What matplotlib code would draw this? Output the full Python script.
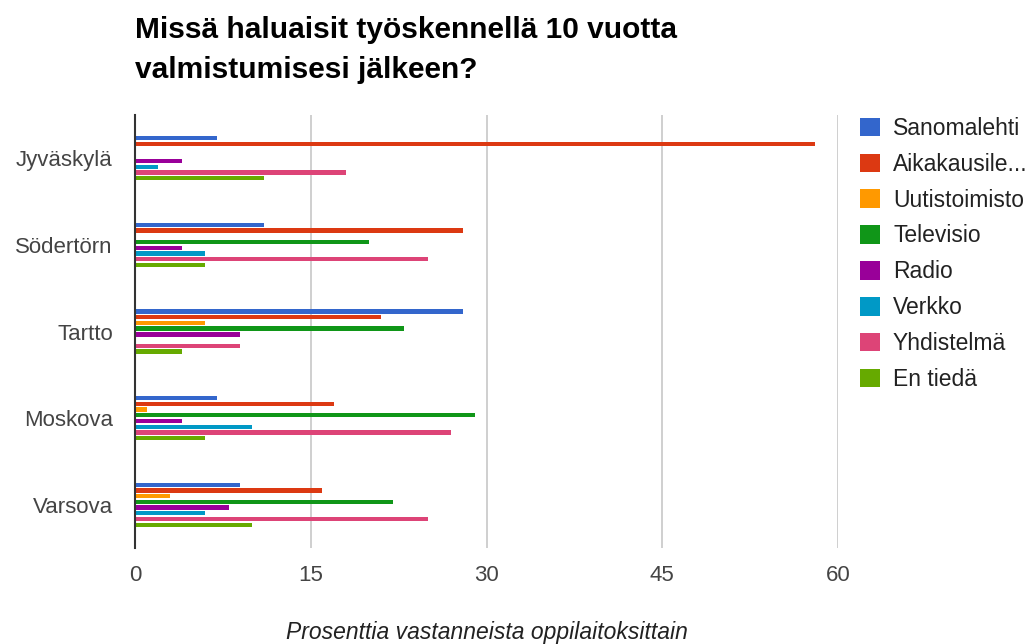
import numpy as np
import matplotlib
matplotlib.use("Agg")
import matplotlib.pyplot as plt

cities = ["Jyväskylä", "Södertörn", "Tartto", "Moskova", "Varsova"]
series_names = ["Sanomalehti", "Aikakausile...", "Uutistoimisto", "Televisio",
                "Radio", "Verkko", "Yhdistelmä", "En tiedä"]
colors = ["#3366cc", "#dc3912", "#ff9900", "#109618",
          "#990099", "#0099c6", "#dd4477", "#66aa00"]

# values per series, one entry per city
sanomalehti = [7, 11, 28, 7, 9]
aikakauslehti = [58, 28, 21, 17, 16]
uutistoimisto = [0, 0, 6, 1, 3]
televisio = [0, 20, 23, 29, 22]
radio = [4, 4, 9, 4, 8]
verkko = [2, 6, 0, 10, 6]
yhdistelma = [18, 25, 9, 27, 25]
en_tieda = [11, 6, 4, 6, 10]
series = [sanomalehti, aikakauslehti, uutistoimisto, televisio,
          radio, verkko, yhdistelma, en_tieda]

xticks = [0, 15, 30, 45, 60]

plt.rcParams['font.family'] = ['Liberation Sans', 'DejaVu Sans']

W, H = 1034, 644
fig = plt.figure(figsize=(W / 100, H / 100), dpi=100)
left, right, top, bottom = 135, 838, 115, 548
ax = fig.add_axes([left / W, (H - bottom) / H, (right - left) / W, (bottom - top) / H])

y = np.arange(len(cities))
slot = 0.066
bar_h = 0.05
for i, (vals, name, c) in enumerate(zip(series, series_names, colors)):
    ax.barh(y + (i - 3.5) * slot, vals, height=bar_h, color=c, label=name, zorder=3)

ax.set_xlim(0, 60)
ax.set_ylim(4.5, -0.5)
ax.set_xticks(xticks)
ax.set_xticklabels([str(t) for t in xticks])
ax.set_yticks(y)
ax.set_yticklabels(cities)
ax.grid(axis="x", color="#cccccc", linewidth=1.3, zorder=0)
for s in ["top", "right", "bottom"]:
    ax.spines[s].set_visible(False)
ax.spines["left"].set_color("#333333")
ax.spines["left"].set_linewidth(1.5)
ax.spines["left"].set_zorder(4)
ax.tick_params(axis="both", length=0, labelsize=16, colors="#444444")
ax.tick_params(axis="x", pad=12)
ax.tick_params(axis="y", pad=16)

fig.text(135 / W, 1 - 30 / H, "Missä haluaisit työskennellä 10 vuotta",
         fontsize=21.5, fontweight="bold", va="center", ha="left", color="#000000")
fig.text(135 / W, 1 - 70 / H, "valmistumisesi jälkeen?",
         fontsize=21.5, fontweight="bold", va="center", ha="left", color="#000000")
fig.text((left + right) / 2 / W, 1 - 632 / H, "Prosenttia vastanneista oppilaitoksittain",
         fontsize=16.5, style="italic", ha="center", va="center", color="#222222")

handles, labels = ax.get_legend_handles_labels()
fig.legend(handles, labels, loc="upper left", bbox_to_anchor=(860 / W, 1 - 117 / H),
           frameon=False, fontsize=16.5, handlelength=0.87, handleheight=0.87,
           handletextpad=0.57, labelspacing=0.56, borderaxespad=0, borderpad=0,
           labelcolor="#222222")

fig.savefig("out.png", dpi=100)
